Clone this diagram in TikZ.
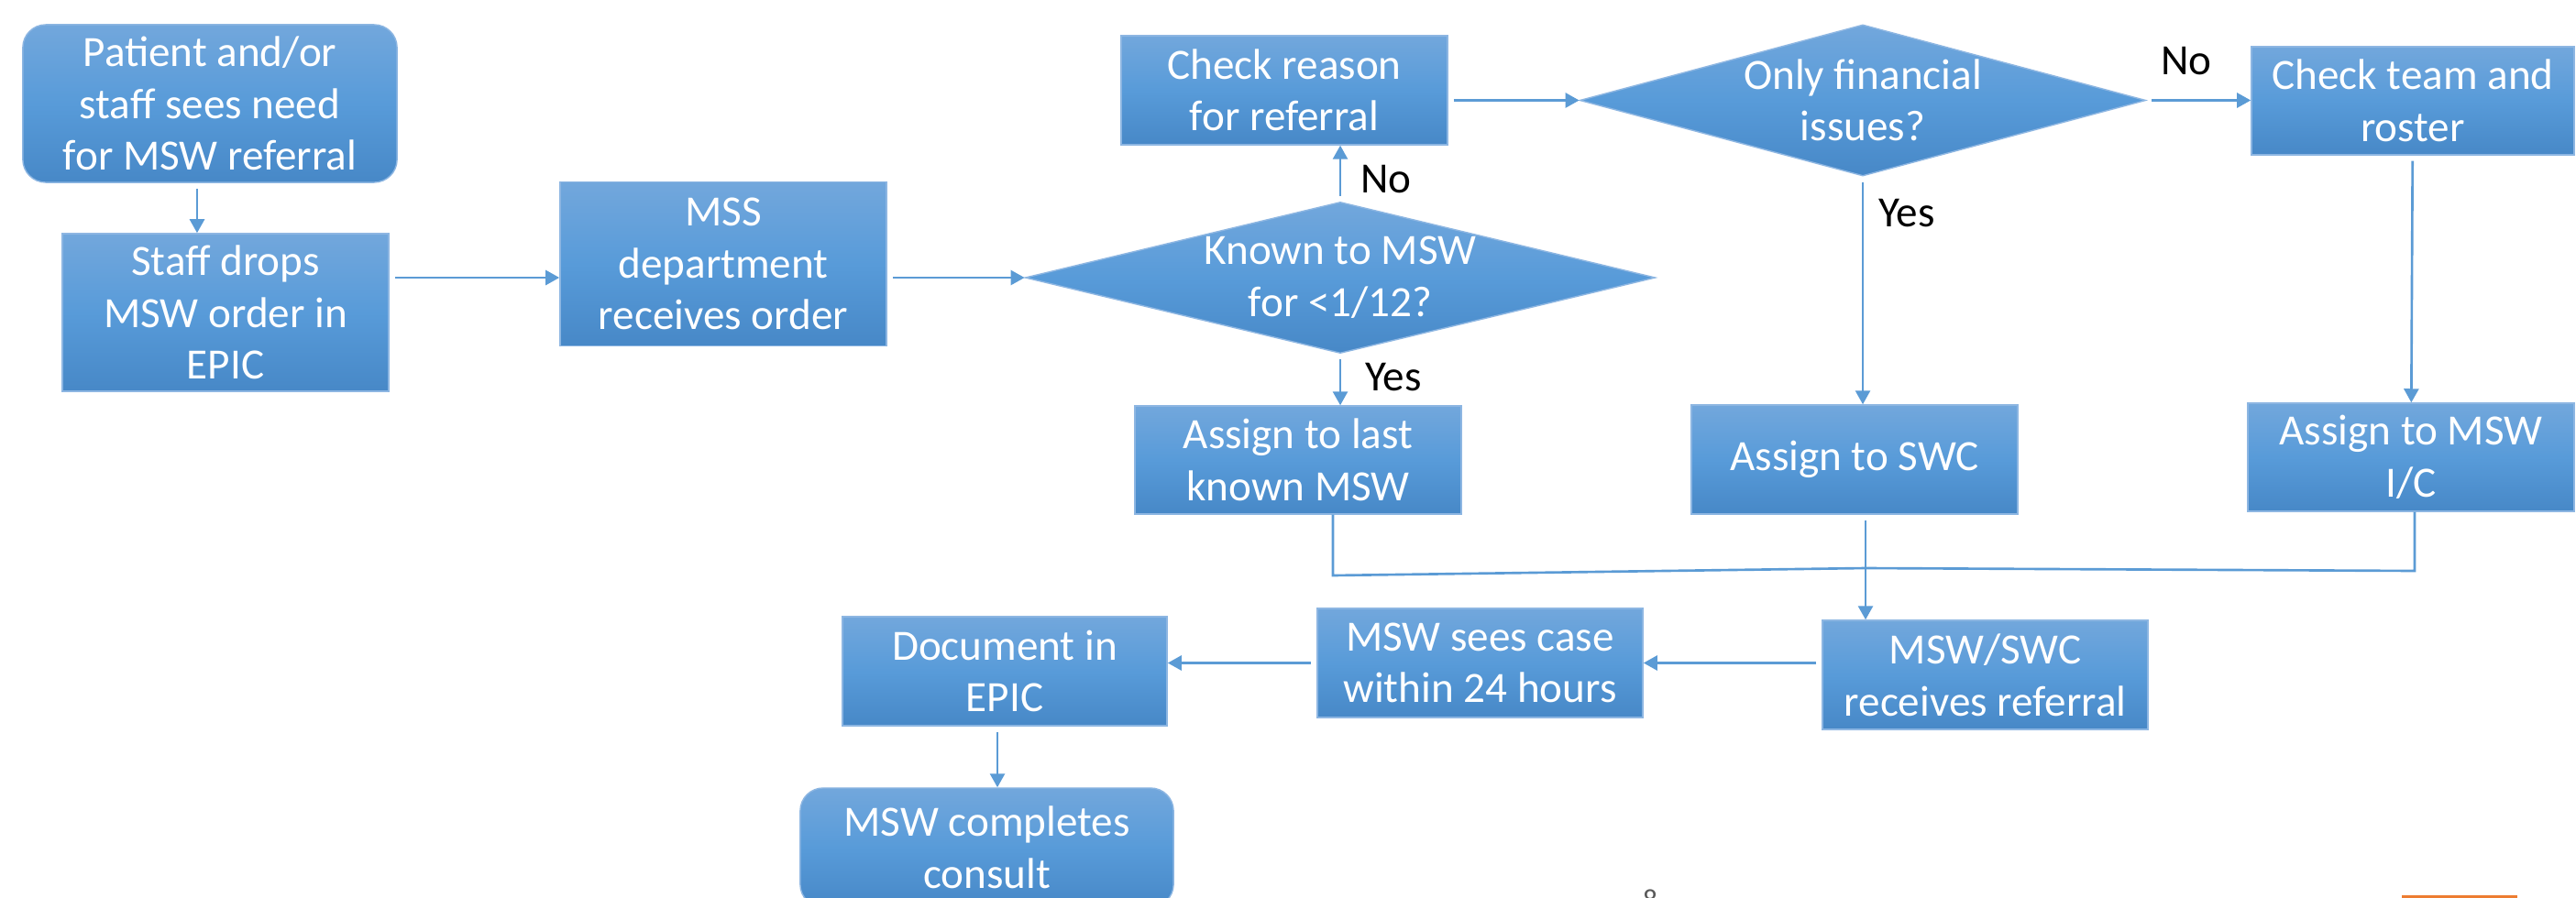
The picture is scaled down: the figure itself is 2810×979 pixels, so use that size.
\documentclass[tikz,border=0pt]{standalone}
\usepackage{fontspec}
\setmainfont{Carlito}
\usetikzlibrary{arrows.meta,shapes.geometric}
\definecolor{flowtop}{RGB}{114,167,220}
\definecolor{flowmid}{RGB}{88,155,217}
\definecolor{flowbot}{RGB}{71,136,199}
\definecolor{flowedge}{RGB}{141,182,226}
\definecolor{flowline}{RGB}{91,155,213}
\definecolor{slidegray}{RGB}{89,89,89}
\definecolor{slideorange}{RGB}{237,125,49}
\newcommand{\flowfont}{\fontsize{13.4}{16.1}\selectfont}
\tikzset{
  flowbox/.style={
    rectangle,
    draw=flowedge,
    line width=0.4pt,
    top color=flowtop,
    bottom color=flowbot,
    middle color=flowmid,
    text=white,
    align=center,
    font=\flowfont,
    inner sep=0pt
  },
  flowstart/.style={flowbox, rounded corners=2.5mm},
  flowdecision/.style={flowbox, diamond},
  flowtext/.style={text=white, align=center, font=\flowfont, inner sep=0pt},
  flowlabel/.style={text=black, font=\flowfont, inner sep=0pt},
  flowarrow/.style={-{Triangle[length=1.5mm,width=1.6mm]}, line width=0.75pt, draw=flowline, shorten <=0.6mm},
  flowjoin/.style={line width=0.75pt, draw=flowline}
}

\begin{document}
\begin{tikzpicture}[x=0.01cm, y=-0.01cm]
\path[use as bounding box, fill=white] (0,0) rectangle (2810,979);
% intake
\node[flowstart, minimum width=4.08cm, minimum height=1.72cm] (patient) at (229,113) {Patient and/or\\staff sees need\\for MSW referral};
\node[flowbox, minimum width=3.56cm, minimum height=1.72cm] (staff) at (246,341) {Staff drops\\MSW order in\\EPIC};
\node[flowbox, minimum width=3.56cm, minimum height=1.79cm] (mss) at (789,288) {MSS\\department\\receives order};
% decisions
\node[flowdecision, minimum width=6.87cm, minimum height=1.65cm] (known) at (1462,303) {};
\node[flowtext] (knowntext) at (known) {Known to MSW\\for <1/12?};
\node[flowbox, minimum width=3.56cm, minimum height=1.19cm] (checkreason) at (1401,98.5) {Check reason\\for referral};
\node[flowdecision, minimum width=6.17cm, minimum height=1.65cm] (onlyfin) at (2032,109.5) {};
\node[flowtext] (onlyfintext) at (onlyfin) {Only financial\\issues?};
\node[flowbox, minimum width=3.52cm, minimum height=1.18cm] (checkteam) at (2632,110) {Check team and\\roster};
% assignment
\node[flowbox, minimum width=3.56cm, minimum height=1.18cm] (lastmsw) at (1416,502) {Assign to last\\known MSW};
\node[flowbox, minimum width=3.56cm, minimum height=1.19cm] (swc) at (2023,501.5) {Assign to SWC};
\node[flowbox, minimum width=3.56cm, minimum height=1.18cm] (icmsw) at (2630,499) {Assign to MSW\\I/C};
% follow up
\node[flowbox, minimum width=3.55cm, minimum height=1.19cm] (recv) at (2165.5,736.5) {MSW/SWC\\receives referral};
\node[flowbox, minimum width=3.55cm, minimum height=1.19cm] (sees) at (1614.5,723.5) {MSW sees case\\within 24 hours};
\node[flowbox, minimum width=3.54cm, minimum height=1.19cm] (doc) at (1096,732.5) {Document in\\EPIC};
\node[flowstart, minimum width=4.07cm, minimum height=1.30cm] (completes) at (1076.5,925) {MSW completes\\consult};
% slide leftovers
\node[text=slidegray, font=\fontsize{9}{10}\selectfont, anchor=north, inner sep=0pt] (slidenum) at (1800,970) {8};
\fill[slideorange] (2620,977) rectangle (2746,990);

\draw[flowarrow] ([xshift=-1.4mm]patient.south) -- ([xshift=-1.4mm]patient.south |- staff.north);
\draw[flowarrow] (staff.east |- known.west) -- (mss.west |- known.west);
\draw[flowarrow] (mss.east |- known.west) -- (known.west);
\draw[flowarrow] (known.north) -- node[flowlabel, pos=0.39, right=2.1mm] (knownno) {No} (known.north |- checkreason.south);
\draw[flowarrow] (known.south) -- node[flowlabel, pos=0.46, right=2.6mm] (knownyes) {Yes} (known.south |- lastmsw.north);
\draw[flowarrow] (checkreason.east |- onlyfin.west) -- (onlyfin.west);
\draw[flowarrow] (onlyfin.east) -- node[flowlabel, pos=0.38, above=2.6mm] (finno) {No} (onlyfin.east -| checkteam.west);
\draw[flowarrow] (onlyfin.south) -- node[flowlabel, pos=0.16, right=1.6mm] (finyes) {Yes} (onlyfin.south |- swc.north);
\draw[flowarrow] (checkteam) -- (icmsw);
% join of the three assignments
\coordinate (joinleft) at (1454,628);
\coordinate (joinmid) at (2035,620);
\coordinate (joinright) at (2634,623);
\draw[flowjoin] (lastmsw.south -| joinleft) -- (joinleft) -- (joinmid);
\draw[flowjoin] (icmsw.south -| joinright) -- (joinright) -- (joinmid);
\draw[flowarrow] (swc.south -| joinmid) -- (joinmid |- recv.north);
\draw[flowarrow] (recv.west |- sees.east) -- (sees.east);
\draw[flowarrow] (sees.west) -- (sees.west -| doc.east);
\draw[flowarrow] ([xshift=-0.8mm]doc.south) -- ([xshift=-0.8mm]doc.south |- completes.north);
\end{tikzpicture}
\end{document}
